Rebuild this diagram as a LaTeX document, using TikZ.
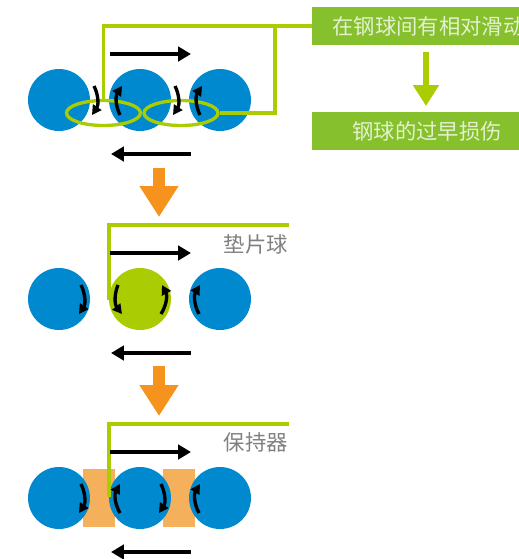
\documentclass[tikz,border=0pt]{standalone}
\usepackage{fontspec}
\setmainfont{Noto Sans CJK SC}
\usetikzlibrary{arrows.meta,calc,shapes.geometric}
\definecolor{ballblue}{HTML}{0089CE}
\definecolor{limegreen}{HTML}{AACC03}
\definecolor{boxgreen}{HTML}{86C02C}
\definecolor{flagorange}{HTML}{F5931D}
\definecolor{padorange}{HTML}{F4B05A}
\begin{document}
\begin{tikzpicture}[x=0.02cm,y=-0.02cm,
  ball/.style={circle,fill=ballblue,minimum size=1.24cm,inner sep=0pt},
  greenball/.style={ball,fill=limegreen},
  pad/.style={fill=padorange,minimum width=0.64cm,minimum height=1.16cm,inner sep=0pt},
  slipring/.style={ellipse,draw=limegreen,line width=1.9pt,minimum width=1.48cm,minimum height=0.5cm,inner sep=0pt},
  leader/.style={draw=limegreen,line width=1.9pt},
  motion/.style={line width=2.3pt,-{Triangle[length=0.26cm,width=0.29cm]}},
  spin/.style={line width=1.9pt,-{Triangle[length=0.19cm,width=0.2cm]}},
  nextstep/.style={draw=flagorange,line width=0.24cm,-{Triangle[length=0.62cm,width=0.74cm]}},
  result/.style={draw=limegreen,line width=0.14cm,-{Triangle[length=0.42cm,width=0.5cm]}},
  greenbox/.style={fill=boxgreen,minimum width=4.14cm,minimum height=0.76cm,inner sep=0pt},
  boxtext/.style={text=white!78!boxgreen,font=\fontsize{12.15}{12}\selectfont,inner sep=0pt,anchor=west},
  graytext/.style={text=black!50,font=\fontsize{12.15}{12}\selectfont,inner sep=0pt}]
\useasboundingbox (0,0) rectangle (519,559);
% first row
\node [ball] (ballA) at (59,100) {};
\node [ball] (ballB) at (140,100) {};
\node [ball] (ballC) at (220,100) {};
\node [greenbox] (slideBox) at (415.5,26) {};
\node [greenbox] (wearBox) at (415.5,131) {};
\node [boxtext] (slideText) at (332,26) {在钢球间有相对滑动};
\node [boxtext] (wearText) at (352,131) {钢球的过早损伤};
\node [slipring] (gapA) at (103.5,113) {};
\node [slipring] (gapB) at (181,113) {};
\coordinate (turnA) at (275,26);
\draw[leader] (gapA.north) |- (slideBox.west);
\draw[leader] (gapB.east) -| (turnA);
\coordinate (arrowA) at (426,52);
\coordinate (arrowB) at (426,106);
\draw[result] (arrowA) -- (arrowB);
\coordinate (upperA) at (110,54);
\coordinate (upperB) at (191,54);
\coordinate (lowerA) at (191,154);
\coordinate (lowerB) at (111,154);
\draw[motion] (upperA) -- (upperB);
\draw[motion] (lowerA) -- (lowerB);
\draw[spin] ($(ballA)+(35,-14)$) to[bend left=30] ($(ballA)+(33,15)$);
\draw[spin] ($(ballB)+(-20,15)$) to[bend left=30] ($(ballB)+(-18,-14)$);
\draw[spin] ($(ballB)+(35,-14)$) to[bend left=30] ($(ballB)+(33,15)$);
\draw[spin] ($(ballC)+(-20,15)$) to[bend left=30] ($(ballC)+(-18,-14)$);
\coordinate (stepA) at (159,168);
\coordinate (stepB) at (159,217);
\draw[nextstep] (stepA) -- (stepB);
% second row
\node [ball] (ballD) at (59,299) {};
\node [greenball] (ballE) at (140,299) {};
\node [ball] (ballF) at (220,299) {};
\node [graytext] (spacerText) at (256,244) {垫片球};
\coordinate (spacerA) at (109,300);
\coordinate (spacerB) at (289,225);
\draw[leader] (spacerA) |- (spacerB);
\coordinate (upperC) at (110,253);
\coordinate (upperD) at (191,253);
\coordinate (lowerC) at (191,353);
\coordinate (lowerD) at (111,353);
\draw[motion] (upperC) -- (upperD);
\draw[motion] (lowerC) -- (lowerD);
\draw[spin] ($(ballD)+(22,-14)$) to[bend left=30] ($(ballD)+(20,15)$);
\draw[spin] ($(ballE)+(-22,-14)$) to[bend right=30] ($(ballE)+(-18,15)$);
\draw[spin] ($(ballE)+(21,15)$) to[bend right=30] ($(ballE)+(22,-14)$);
\draw[spin] ($(ballF)+(-21,15)$) to[bend left=30] ($(ballF)+(-20,-14)$);
\coordinate (stepC) at (159,366);
\coordinate (stepD) at (159,416);
\draw[nextstep] (stepC) -- (stepD);
% third row
\node [pad] (padA) at (99,498) {};
\node [pad] (padB) at (179,498) {};
\node [ball] (ballG) at (59,498) {};
\node [ball] (ballH) at (140,498) {};
\node [ball] (ballI) at (220,498) {};
\node [graytext] (cageText) at (256,442) {保持器};
\coordinate (cageA) at (109,497);
\coordinate (cageB) at (289,424);
\draw[leader] (cageA) |- (cageB);
\coordinate (upperE) at (110,452);
\coordinate (upperF) at (191,452);
\coordinate (lowerE) at (191,552);
\coordinate (lowerF) at (111,552);
\draw[motion] (upperE) -- (upperF);
\draw[motion] (lowerE) -- (lowerF);
\draw[spin] ($(ballG)+(22,-14)$) to[bend left=30] ($(ballG)+(20,15)$);
\draw[spin] ($(ballH)+(-20,15)$) to[bend left=30] ($(ballH)+(-20,-14)$);
\draw[spin] ($(ballH)+(21,-14)$) to[bend left=30] ($(ballH)+(19,15)$);
\draw[spin] ($(ballI)+(-21,15)$) to[bend left=30] ($(ballI)+(-20,-14)$);
\end{tikzpicture}
\end{document}
